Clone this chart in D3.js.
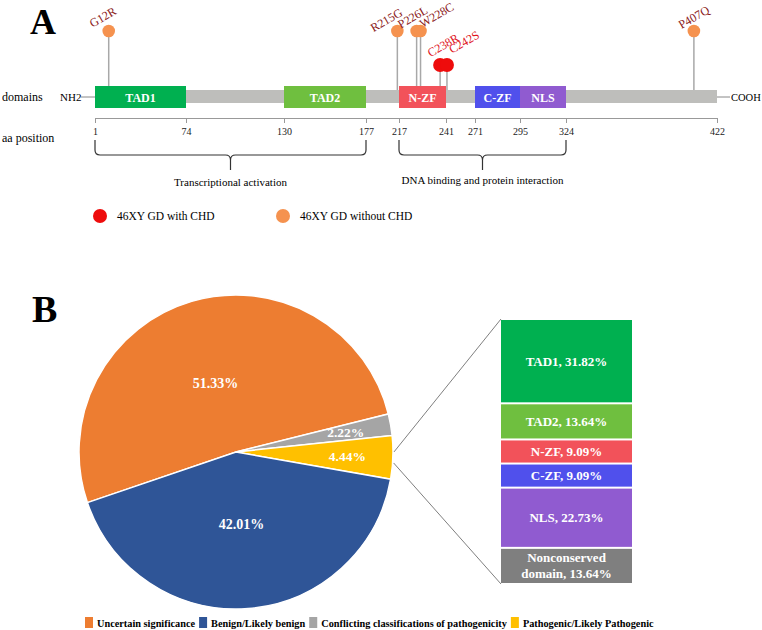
<!DOCTYPE html>
<html>
<head>
<meta charset="utf-8">
<script src="https://cdn.jsdelivr.net/npm/d3@7"></script>
<style>
  body { margin: 0; background: #fff; }
  svg { display: block; font-family: "Liberation Serif", "Times New Roman", serif; }
</style>
</head>
<body>
<svg width="762" height="630"></svg>
<script>
// ---- panel A data ----
const domainNames = ['TAD1', 'TAD2', 'N-ZF', 'C-ZF', 'NLS'];
const domainStart = [1, 130, 217, 271, 295];
const domainEnd = [74, 177, 241, 295, 324];
const aaTicks = [1, 74, 130, 177, 217, 241, 271, 295, 324, 422];

const mutNames = ['G12R', 'R215G', 'P226L', 'W228C', 'C238R', 'C242S', 'P407Q'];
const mutPos = [12, 215, 226, 228, 238, 242, 407];
const mutCHD = [false, false, false, false, true, true, false];

const regionNames = ['Transcriptional activation', 'DNA binding and protein interaction'];
const regionStart = [1, 217];
const regionEnd = [177, 324];

// ---- panel B data ----
const classNames = ['Uncertain significance', 'Benign/Likely benign',
  'Conflicting classifications of pathogenicity', 'Pathogenic/Likely Pathogenic'];
const classPct = [51.33, 42.01, 2.22, 4.44];

const barNames = ['TAD1', 'TAD2', 'N-ZF', 'C-ZF', 'NLS', 'Nonconserved domain'];
const barPct = [31.82, 13.64, 9.09, 9.09, 22.73, 13.64];

// colours
const domainColors = ['#00b050', '#6fbf3f', '#f2525a', '#5050ec', '#905bd0'];
const barColors = ['#00b050', '#6fbf3f', '#f2525a', '#5050ec', '#905bd0', '#7f7f7f'];
const classColors = ['#ed7d31', '#2f5597', '#a5a5a5', '#ffc000'];
const withColor = '#ee0c0c', withoutColor = '#f5924f';

const svg = d3.select('svg');

// ================= Panel A =================
svg.append('text').attr('x', 30).attr('y', 34)
  .attr('font-size', 36).attr('font-weight', 'bold').text('A');

// the protein drawing is not to scale, so a piecewise scale through the tick positions
const x = d3.scaleLinear()
  .domain(aaTicks)
  .range([95, 186, 284, 366, 399, 446, 475, 520, 566, 717]);

const barTop = 90, barBot = 103, boxTop = 86, boxBot = 108;

svg.append('text').attr('x', 2).attr('y', 101).attr('font-size', 12).text('domains');
svg.append('text').attr('x', 2).attr('y', 142).attr('font-size', 12).text('aa position');

svg.append('text').attr('x', 60).attr('y', 101).attr('font-size', 11).text('NH2');
svg.append('line').attr('x1', 81).attr('x2', x(1)).attr('y1', 97).attr('y2', 97)
  .attr('stroke', '#888');
svg.append('text').attr('x', 731).attr('y', 101).attr('font-size', 10.5).text('COOH');
svg.append('line').attr('x1', x(422)).attr('x2', 730).attr('y1', 97).attr('y2', 97)
  .attr('stroke', '#888');

// backbone
svg.append('rect').attr('x', x(1)).attr('y', barTop)
  .attr('width', x(422) - x(1)).attr('height', barBot - barTop)
  .attr('fill', '#bebebb');

// domain boxes
const doms = svg.append('g').selectAll('g')
  .data(domainNames.map((n, i) => ({ name: n, s: domainStart[i], e: domainEnd[i], c: domainColors[i] })))
  .join('g');
doms.append('rect')
  .attr('x', d => x(d.s)).attr('y', boxTop)
  .attr('width', d => x(d.e) - x(d.s)).attr('height', boxBot - boxTop)
  .attr('fill', d => d.c);
doms.append('text')
  .attr('x', d => (x(d.s) + x(d.e)) / 2).attr('y', 101.5)
  .attr('text-anchor', 'middle').attr('fill', '#fff')
  .attr('font-size', 12).attr('font-weight', 'bold')
  .text(d => d.name);

// aa position axis
const axis = svg.append('g').attr('transform', 'translate(0,118)')
  .call(d3.axisBottom(x).tickValues(aaTicks).tickSize(5).tickSizeOuter(0).tickFormat(d3.format('d')));
axis.select('.domain').attr('stroke', '#999');
axis.selectAll('.tick line').attr('stroke', '#999');
axis.selectAll('.tick text').attr('font-family', '"Liberation Serif", serif')
  .attr('font-size', 10).attr('fill', '#222').attr('dy', '0.9em');

// braces under the axis
function bracePath(x1, x2, y0, y1, y2) {
  const m = (x1 + x2) / 2, r = 5;
  return `M${x1},${y0} L${x1},${y1 - r} Q${x1},${y1} ${x1 + r},${y1}` +
    ` L${m - r},${y1} Q${m},${y1} ${m},${y1 + r} L${m},${y2}` +
    ` M${m},${y1 + r} Q${m},${y1} ${m + r},${y1} L${x2 - r},${y1}` +
    ` Q${x2},${y1} ${x2},${y1 - r} L${x2},${y0}`;
}
regionNames.forEach((n, i) => {
  const x1 = x(regionStart[i]), x2 = x(regionEnd[i]);
  svg.append('path').attr('d', bracePath(x1, x2, 140, 155, 170))
    .attr('fill', 'none').attr('stroke', '#333').attr('stroke-width', 1.2);
  svg.append('text').attr('x', (x1 + x2) / 2).attr('y', i === 0 ? 186 : 184)
    .attr('text-anchor', 'middle').attr('font-size', 11).text(n);
});

// lollipops
const labelOffset = {
  'G12R': [-6, -14], 'R215G': [-11, -11], 'P226L': [-4, -14], 'W228C': [16, -16],
  'C238R': [3, -20], 'C242S': [17, -23], 'P407Q': [0, -14]
};
const muts = mutNames.map((n, i) => ({ name: n, pos: mutPos[i], chd: mutCHD[i] }));
const inDomain = p => domainStart.some((s, i) => p >= s && p <= domainEnd[i]);
const lol = svg.append('g').selectAll('g').data(muts).join('g');
lol.append('line')
  .attr('x1', d => x(d.pos)).attr('x2', d => x(d.pos))
  .attr('y1', d => d.chd ? 65 : 31)
  .attr('y2', d => inDomain(d.pos) ? boxTop : barTop)
  .attr('stroke', '#a8a8a8').attr('stroke-width', 1.5);
lol.append('circle')
  .attr('cx', d => x(d.pos)).attr('cy', d => d.chd ? 65 : 31)
  .attr('r', d => d.chd ? 7 : 6.3)
  .attr('fill', d => d.chd ? withColor : withoutColor);
lol.append('text')
  .attr('transform', d => {
    const o = labelOffset[d.name];
    return `translate(${x(d.pos) + o[0]},${(d.chd ? 65 : 31) + o[1]}) rotate(-30)`;
  })
  .attr('text-anchor', 'middle').attr('dy', '0.35em')
  .attr('font-size', 12)
  .attr('fill', d => d.chd ? '#e0141c' : '#8b1a1a')
  .text(d => d.name);

// legend for panel A
const legA = [['46XY GD with CHD', withColor, 100], ['46XY GD without CHD', withoutColor, 283]];
legA.forEach(([t, c, lx]) => {
  svg.append('circle').attr('cx', lx).attr('cy', 216).attr('r', 7).attr('fill', c);
  svg.append('text').attr('x', lx + 17).attr('y', 220).attr('font-size', 11.5).text(t);
});

// ================= Panel B =================
svg.append('text').attr('x', 32).attr('y', 322)
  .attr('font-size', 38).attr('font-weight', 'bold').text('B');

const cx = 236, cy = 452, R = 157;
const pieOrder = [0, 2, 3, 1]; // clockwise drawing order
const startA = -108.8 * Math.PI / 180;
const pie = d3.pie().sort(null).value(d => d.v)
  .startAngle(startA).endAngle(startA + 2 * Math.PI);
const slices = pie(pieOrder.map(i => ({ name: classNames[i], v: classPct[i], c: classColors[i] })));
const arc = d3.arc().innerRadius(0).outerRadius(R);
const gPie = svg.append('g').attr('transform', `translate(${cx},${cy})`);
gPie.selectAll('path').data(slices).join('path')
  .attr('d', arc).attr('fill', d => d.data.c)
  .attr('stroke', '#fff').attr('stroke-width', 1.5);
gPie.selectAll('text').data(slices).join('text')
  .attr('transform', d => {
    const lr = d.data.v > 20 ? R * 0.46 : R * 0.71;
    return `translate(${d3.arc().innerRadius(lr).outerRadius(lr).centroid(d)})`;
  })
  .attr('text-anchor', 'middle').attr('dy', '0.35em')
  .attr('fill', '#fff').attr('font-weight', 'bold')
  .attr('font-size', d => d.data.v > 20 ? 14 : 13.5)
  .text(d => d3.format('.2f')(d.data.v) + '%');

// stacked bar of pathogenic variants by domain
const bx0 = 501, bx1 = 632;
const yb = d3.scaleLinear().domain([0, d3.sum(barPct)]).range([319, 584]);
let acc = 0;
const stack = barNames.map((n, i) => {
  const d = { name: n, v: barPct[i], c: barColors[i], y0: acc, y1: acc + barPct[i] };
  acc += barPct[i];
  return d;
});

// connector lines from the pathogenic slice
const pSlice = slices.find(s => s.data.name === classNames[3]);
const pm = (pSlice.startAngle + pSlice.endAngle) / 2;
const edgePt = a => [cx + (R + 1) * Math.sin(a), cy - (R + 1) * Math.cos(a)];
const pA = edgePt(pm - 2 * Math.PI / 180), pB = edgePt(pm + 2 * Math.PI / 180);
svg.append('line').attr('x1', pA[0]).attr('y1', pA[1]).attr('x2', bx0).attr('y2', yb(0))
  .attr('stroke', '#7f7f7f').attr('stroke-width', 1);
svg.append('line').attr('x1', pB[0]).attr('y1', pB[1]).attr('x2', bx0).attr('y2', yb(acc))
  .attr('stroke', '#7f7f7f').attr('stroke-width', 1);

const segs = svg.append('g').selectAll('g').data(stack).join('g');
segs.append('rect')
  .attr('x', bx0).attr('width', bx1 - bx0)
  .attr('y', d => yb(d.y0) + 1).attr('height', d => yb(d.y1) - yb(d.y0) - 2)
  .attr('fill', d => d.c);
segs.each(function (d) {
  const t = d3.select(this).append('text')
    .attr('x', (bx0 + bx1) / 2).attr('text-anchor', 'middle')
    .attr('fill', '#fff').attr('font-weight', 'bold').attr('font-size', 13);
  const mid = (yb(d.y0) + yb(d.y1)) / 2;
  const label = d.name + ', ' + d3.format('.2f')(d.v) + '%';
  if (d.name === 'Nonconserved domain') {
    t.attr('y', mid - 3.5);
    t.append('tspan').attr('x', (bx0 + bx1) / 2).text('Nonconserved');
    t.append('tspan').attr('x', (bx0 + bx1) / 2).attr('dy', 16)
      .text('domain, ' + d3.format('.2f')(d.v) + '%');
  } else {
    t.attr('y', mid).attr('dy', '0.35em').text(label);
  }
});

// bottom legend
let lx = 85;
classNames.forEach((n, i) => {
  svg.append('rect').attr('x', lx).attr('y', 617).attr('width', 8).attr('height', 11)
    .attr('fill', classColors[i]);
  const t = svg.append('text').attr('x', lx + 12).attr('y', 626.5)
    .attr('font-size', 10.3).attr('font-weight', 'bold').text(n);
  lx += 12 + t.node().getComputedTextLength() + 4;
});
</script>
</body>
</html>
